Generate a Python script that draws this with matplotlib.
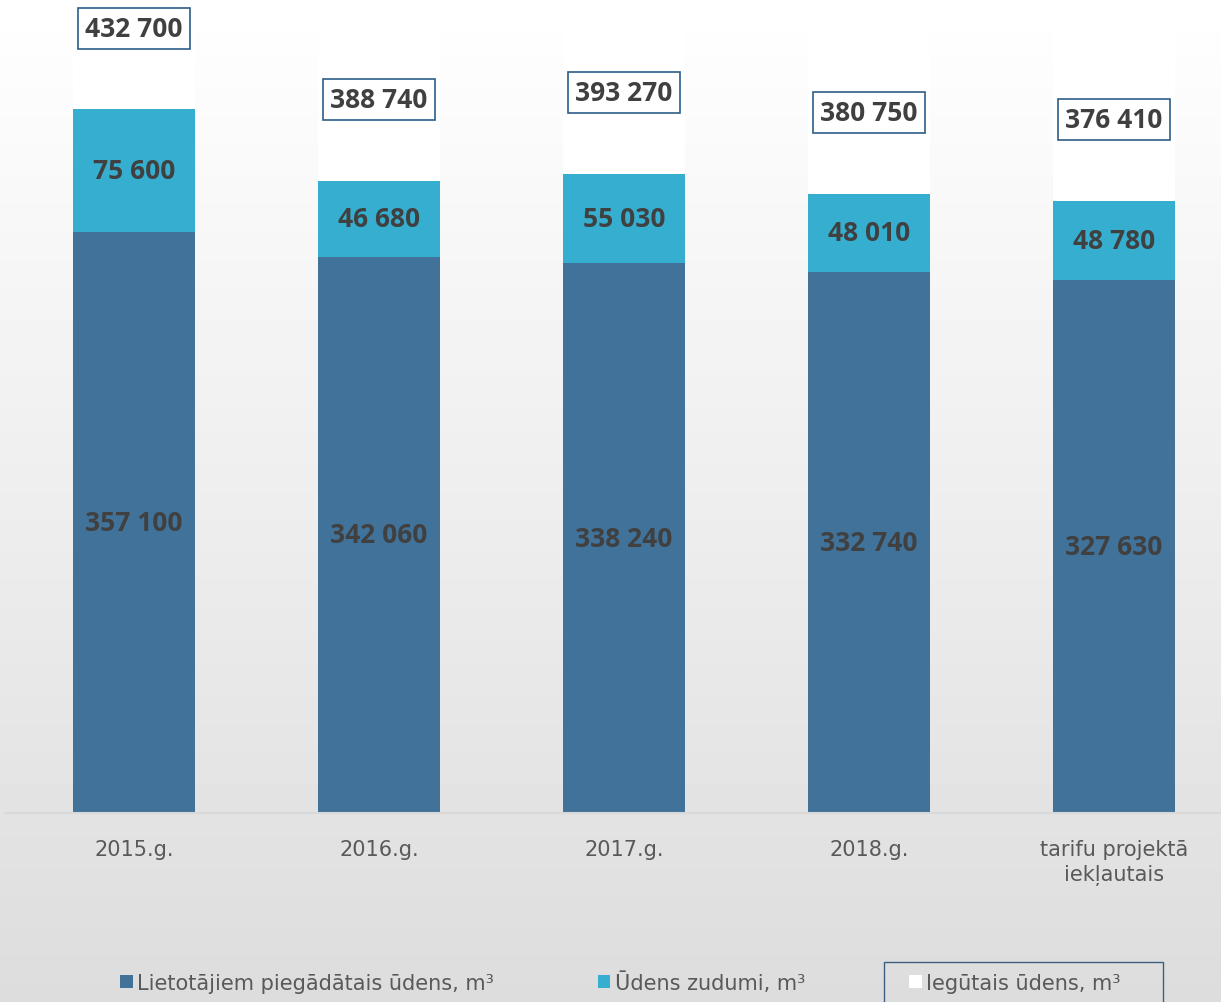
import numpy as np
import matplotlib.pyplot as plt
from matplotlib.patches import Rectangle, Patch

# dati
kategorijas = ["2015.g.", "2016.g.", "2017.g.", "2018.g.", "tarifu projektā\niekļautais"]
piegadats = [357100, 342060, 338240, 332740, 327630]
zudumi = [75600, 46680, 55030, 48010, 48780]
iegutais = [432700, 388740, 393270, 380750, 376410]

c_tumss = "#41729a"
c_gaiss = "#36aecf"
c_teksts = "#404040"

def fmt(v):
    return f"{v:,}".replace(",", " ")

fig = plt.figure(figsize=(12.21, 10.03), dpi=100)

# fons ar gradientu
bg = fig.add_axes([0, 0, 1, 1], zorder=-10)
grad = np.linspace(1.0, 0.865, 256).reshape(-1, 1)
bg.imshow(grad, aspect="auto", cmap="gray", vmin=0, vmax=1, extent=[0, 1, 0, 1])
bg.axis("off")

ax = fig.add_axes([5 / 1221, 189 / 1003, 1216 / 1221, 813 / 1003])
ax.patch.set_alpha(0)

x = np.arange(len(kategorijas))
w = 0.5
ax.bar(x, piegadats, w, color=c_tumss)
ax.bar(x, zudumi, w, bottom=piegadats, color=c_gaiss)
apaksa = np.array(piegadats) + np.array(zudumi)
ax.bar(x, iegutais, w, bottom=apaksa, color="white")

ax.set_xlim(-0.527, 4.437)
ax.set_ylim(0, 500000)

lab_font = dict(family="Open Sans", weight="bold", size=19, color=c_teksts)
for i in range(len(x)):
    ax.text(x[i], piegadats[i] / 2, fmt(piegadats[i]), ha="center", va="center", **lab_font)
    ax.text(x[i], piegadats[i] + zudumi[i] / 2, fmt(zudumi[i]), ha="center", va="center", **lab_font)
    ax.text(x[i], iegutais[i] + 50000, fmt(iegutais[i]), ha="center", va="center",
            bbox=dict(boxstyle="square,pad=0.27", facecolor="white", edgecolor="#2e5e8a", linewidth=1.2),
            **lab_font)

ax.set_xticks(x)
ax.set_xticklabels(kategorijas, fontsize=15, color="#595959", family="DejaVu Sans", linespacing=1.3)
ax.tick_params(axis="x", length=0, pad=19)
ax.set_yticks([])
for s in ["top", "right", "left"]:
    ax.spines[s].set_visible(False)
ax.spines["bottom"].set_color("#d9d9d9")
ax.spines["bottom"].set_linewidth(1.5)

handles = [Patch(facecolor=c_tumss), Patch(facecolor=c_gaiss), Patch(facecolor="white")]
labels = ["Lietotājiem piegādātais ūdens, m³", "Ūdens zudumi, m³", "Iegūtais ūdens, m³"]
leg = fig.legend(handles, labels, loc="center", bbox_to_anchor=(0.508, 20 / 1003), ncol=3,
                 frameon=False, fontsize=15, handlelength=0.6, handleheight=0.6,
                 handletextpad=0.2, columnspacing=5.0)
for t in leg.get_texts():
    t.set_color("#595959")

# rāmis ap trešo leģendas elementu
fig.patches.append(Rectangle((884 / 1221, -0.01), 279 / 1221, 50 / 1003, transform=fig.transFigure,
                             facecolor="none", edgecolor="#3a5f80", linewidth=1.0))

fig.savefig("out.png", dpi=100)
